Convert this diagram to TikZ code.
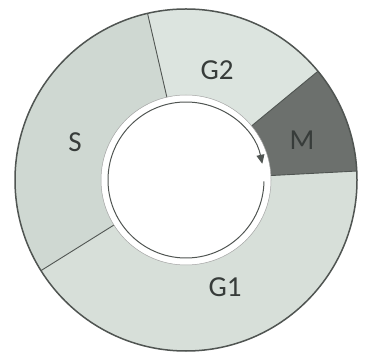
\documentclass[tikz,border=0pt]{standalone}
\usepackage{fontspec}
\setmainfont{Carlito}
\usetikzlibrary{arrows.meta}
\definecolor{sgray}{RGB}{207,216,210}
\definecolor{gtwo}{RGB}{220,228,223}
\definecolor{gone}{RGB}{215,223,217}
\definecolor{mgray}{RGB}{108,112,109}
\definecolor{edge}{RGB}{80,85,82}
\definecolor{txt}{RGB}{55,60,58}
\tikzset{
  seg/.style={draw=edge, line width=0.9pt},
  lbl/.style={text=txt, font=\fontsize{29}{31}\selectfont, inner sep=0pt},
}
\begin{document}
\begin{tikzpicture}[x=1pt,y=1pt]
\useasboundingbox (0,0) rectangle (379,355);
\coordinate (c) at (186,175);
\def\Ro{171}
\def\Ri{85}
% segments: angles G2/S 103, G2/M 39.5, M/G1 3, S/G1 212
\fill[gtwo] ([shift={(39.5:\Ro)}]c) arc[start angle=39.5, end angle=103, radius=\Ro]
  -- ([shift={(103:\Ri)}]c) arc[start angle=103, end angle=39.5, radius=\Ri] -- cycle;
\fill[sgray] ([shift={(103:\Ro)}]c) arc[start angle=103, end angle=212, radius=\Ro]
  -- ([shift={(212:\Ri)}]c) arc[start angle=212, end angle=103, radius=\Ri] -- cycle;
\fill[gone] ([shift={(212:\Ro)}]c) arc[start angle=212, end angle=363, radius=\Ro]
  -- ([shift={(363:\Ri)}]c) arc[start angle=363, end angle=212, radius=\Ri] -- cycle;
\fill[mgray] ([shift={(3:\Ro)}]c) arc[start angle=3, end angle=39.5, radius=\Ro]
  -- ([shift={(39.5:\Ri)}]c) arc[start angle=39.5, end angle=3, radius=\Ri] -- cycle;
% boundaries
\foreach \a in {103,39.5,3,212}
  \draw[seg] ([shift={(\a:\Ri)}]c) -- ([shift={(\a:\Ro)}]c);
\draw[draw=edge, line width=1.5pt] (c) circle[radius=\Ro];
\draw[draw=gray!70, line width=0.5pt] (c) circle[radius=\Ri];
% cycle arrow
\draw[draw=edge, line width=1pt, -{Triangle[length=9pt,width=8pt]}]
  ([shift={(-1:78)}]c) arc[start angle=-1, end angle=-348, radius=78];
% labels
\node[lbl] (g2) at (217,285) {G2};
\node[lbl] (m) at (302,215) {M};
\node[lbl] (s) at (75,213) {S};
\node[lbl] (g1) at (225,68) {G1};
\end{tikzpicture}
\end{document}
